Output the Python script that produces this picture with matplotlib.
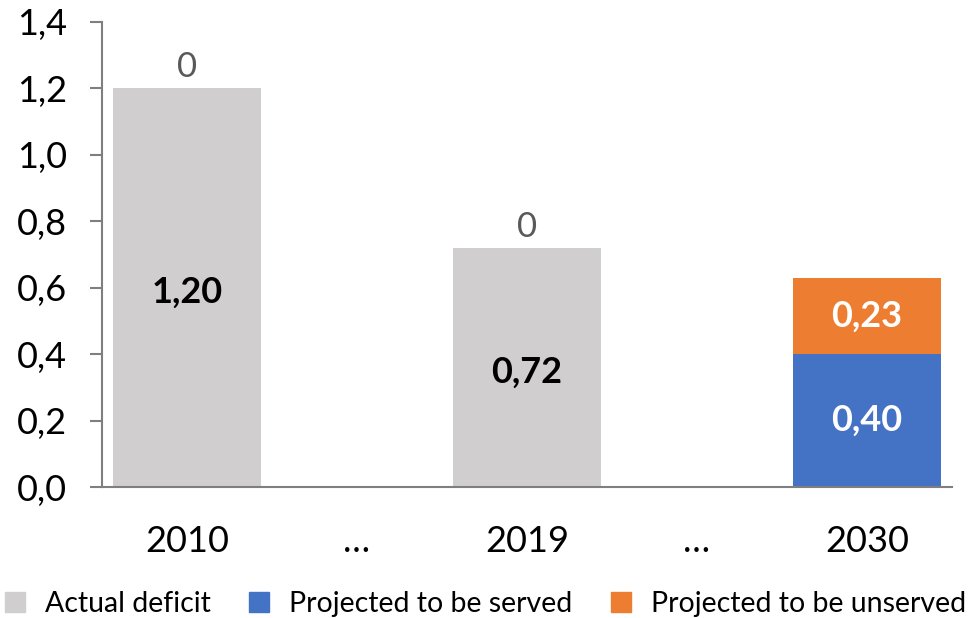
import matplotlib
matplotlib.use("Agg")
import matplotlib.pyplot as plt
from matplotlib.patches import Patch
import numpy as np

categories = ["2010", "…", "2019", "…", "2030"]
actual_deficit = [1.20, 0.0, 0.72, 0.0, 0.0]
projected_served = [0.0, 0.0, 0.0, 0.0, 0.40]
projected_unserved = [0.0, 0.0, 0.0, 0.0, 0.23]
actual_labels = ["1,20", "", "0,72", "", ""]
served_labels = ["", "", "", "", "0,40"]
unserved_labels = ["", "", "", "", "0,23"]
top_labels = ["0", "", "0", "", ""]
yticks = [0.0, 0.2, 0.4, 0.6, 0.8, 1.0, 1.2, 1.4]
ytick_labels = ["0,0", "0,2", "0,4", "0,6", "0,8", "1,0", "1,2", "1,4"]

GRAY = "#D0CECE"
BLUE = "#4472C4"
ORANGE = "#ED7D31"
AXIS = "#7F7F7F"

plt.rcParams["font.family"] = ["Lato", "DejaVu Sans"]

fig = plt.figure(figsize=(9.71, 6.18), dpi=100)
ax = fig.add_axes([102/971, 1-487/618, (952-102)/971, (487-22)/618])

x = np.arange(len(categories))
w = 0.873
ax.bar(x, actual_deficit, width=w, color=GRAY)
ax.bar(x, projected_served, width=w, color=BLUE)
ax.bar(x, projected_unserved, width=w, bottom=projected_served, color=ORANGE)

for i in range(len(categories)):
    if actual_labels[i]:
        ax.text(x[i], actual_deficit[i]/2 - 0.015, actual_labels[i], ha="center", va="center",
                fontsize=26, fontweight="bold", color="black")
    if served_labels[i]:
        ax.text(x[i], projected_served[i]/2, served_labels[i], ha="center", va="center",
                fontsize=26, fontweight="bold", color="white")
    if unserved_labels[i]:
        ax.text(x[i], projected_served[i] + projected_unserved[i]/2, unserved_labels[i],
                ha="center", va="center", fontsize=26, fontweight="bold", color="white")
    if top_labels[i]:
        ax.text(x[i], actual_deficit[i] + 0.015, top_labels[i], ha="center", va="bottom",
                fontsize=25, color="#595959")

ax.set_xlim(-0.5, 4.5)
ax.set_ylim(0, 1.4)
ax.set_yticks(yticks)
ax.set_yticklabels(ytick_labels)
ax.set_xticks(x)
ax.set_xticklabels(categories)

for s in ["top", "right"]:
    ax.spines[s].set_visible(False)
ax.spines["left"].set_color(AXIS)
ax.spines["bottom"].set_color(AXIS)
ax.spines["left"].set_linewidth(1.5)
ax.spines["bottom"].set_linewidth(1.5)
ax.tick_params(axis="y", length=9, width=1.5, color=AXIS, pad=16, labelsize=26)
ax.tick_params(axis="x", length=0, pad=27, labelsize=26)

handles = [Patch(color=GRAY, label="Actual deficit"),
           Patch(color=BLUE, label="Projected to be served"),
           Patch(color=ORANGE, label="Projected to be unserved")]
fig.legend(handles=handles, loc="lower center", ncol=3, frameon=False,
           fontsize=20.5, handlelength=0.7, handleheight=0.7, handletextpad=0.7,
           columnspacing=1.35, bbox_to_anchor=(0.5, -0.04))

fig.savefig("out.png", dpi=100)
